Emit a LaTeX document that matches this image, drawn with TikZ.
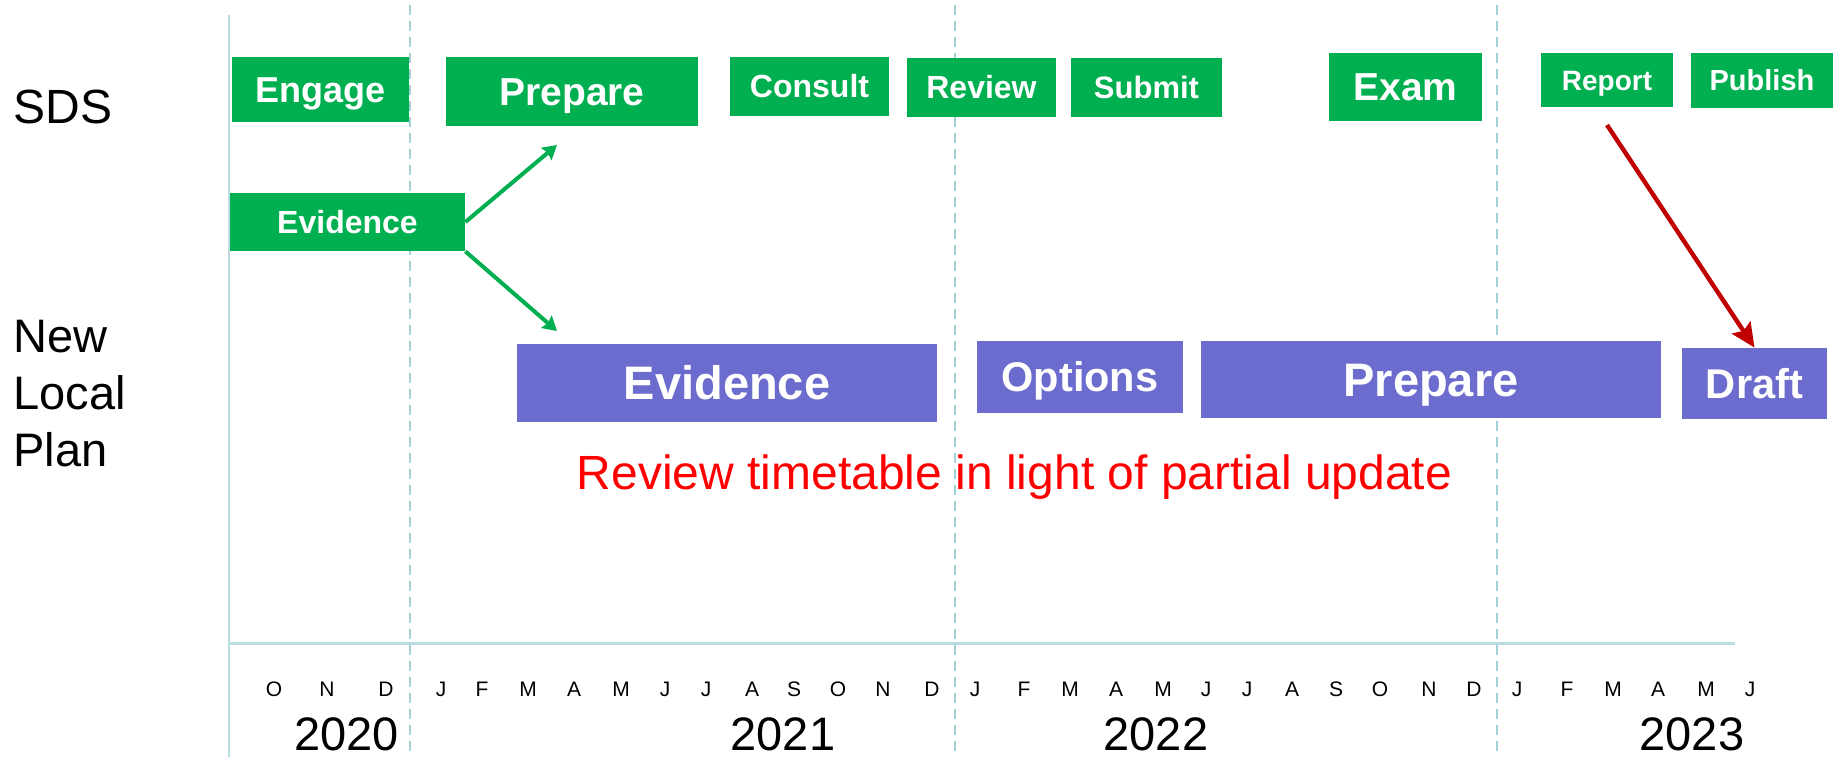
\documentclass[tikz,border=0pt]{standalone}
\usepackage{fontspec}
\setmainfont{Liberation Sans}
\usetikzlibrary{arrows.meta}
\definecolor{sdsgreen}{RGB}{0,176,80}
\definecolor{nlpurple}{RGB}{108,108,206}
\definecolor{gridblue}{RGB}{160,210,216}
\definecolor{axisblue}{RGB}{185,222,226}
\definecolor{arrowred}{RGB}{192,0,0}
\definecolor{textred}{RGB}{255,0,0}
\begin{document}
\begin{tikzpicture}[x=0.5pt,y=-0.5pt,
  boxbase/.style={inner sep=0pt, text=white, text depth=0pt},
  gbox/.style n args={3}{boxbase, fill=sdsgreen, minimum width=#1, minimum height=#2,
     text height=0.716*#3pt, font=\fontsize{#3}{#3}\selectfont\bfseries},
  pbox/.style n args={3}{boxbase, fill=nlpurple, minimum width=#1, minimum height=#2,
     text height=0.716*#3pt, font=\fontsize{#3}{#3}\selectfont\bfseries},
  rowlabel/.style={inner sep=0pt, anchor=base west, font=\fontsize{23.5}{23.5}\selectfont},
  month/.style={inner sep=0pt, anchor=base, font=\fontsize{10.5}{10.5}\selectfont},
  year/.style={inner sep=0pt, anchor=base, font=\fontsize{23.5}{23.5}\selectfont},
  gridline/.style={gridblue, line width=1pt, dash pattern=on 5pt off 3pt},
  garrow/.style={sdsgreen, line width=2pt, -{Stealth[length=7pt,width=8pt,inset=1pt]}},
  rarrow/.style={arrowred, line width=2.2pt, -{Stealth[length=12pt,width=11pt,inset=2pt]}}
]
\useasboundingbox (0,0) rectangle (1833,757);

% grid
\draw[axisblue, line width=1pt] (229,15) -- (229,757);
\draw[gridline] (410,5) -- (410,757);
\draw[gridline] (955,5) -- (955,757);
\draw[gridline] (1497,5) -- (1497,757);
\draw[axisblue, line width=1.5pt] (229,643) -- (1735,643);

% row labels
\node[rowlabel, font=\fontsize{24}{24}\selectfont] (sds) at (13,123) {SDS};
\node[rowlabel] (nlp1) at (13,352) {New};
\node[rowlabel] (nlp2) at (13,409) {Local};
\node[rowlabel] (nlp3) at (13,466) {Plan};

% SDS boxes
\node[gbox={88.5pt}{32.5pt}{18}] (engage) at (320.5,89.5) {Engage};
\node[gbox={126pt}{34.5pt}{19.5}] (prepg) at (572,91.5) {Prepare};
\node[gbox={79.5pt}{29.5pt}{16}] (consult) at (809.5,86.5) {Consult};
\node[gbox={74.5pt}{29.5pt}{16}] (review) at (981.5,87.5) {Review};
\node[gbox={75.5pt}{29.5pt}{15.5}] (submit) at (1146.5,87.5) {Submit};
\node[gbox={76.5pt}{34pt}{19.5}] (exam) at (1405.5,87) {Exam};
\node[gbox={66pt}{27pt}{14}] (report) at (1607,80) {Report};
\node[gbox={71pt}{27.5pt}{14.5}] (publish) at (1762,80.5) {Publish};
\node[gbox={117.5pt}{29pt}{16}] (evg) at (347.5,222) {Evidence};

% New Local Plan boxes
\node[pbox={210pt}{39pt}{23.5}] (evp) at (727,383) {Evidence};
\node[pbox={103pt}{36pt}{20.75}] (options) at (1080,377) {Options};
\node[pbox={230pt}{38.5pt}{23.5}] (prepp) at (1431,379.5) {Prepare};
\node[pbox={72.5pt}{35.5pt}{20.8}] (draft) at (1754.5,383.5) {Draft};

% arrows
\coordinate (ga1) at (557,145);
\coordinate (ga2) at (557,331);
\draw[garrow] (evg.east) -- (ga1);
\draw[garrow] (evg.south east) -- (ga2);
\coordinate (rs) at (1607,125);
\draw[rarrow] (rs) -- (draft.north);

% note
\node[inner sep=0pt, anchor=base, text=textred, font=\fontsize{24}{24}\selectfont] (note) at (1014.5,489) {Review timetable in light of partial update};

% months
\foreach \x/\m [count=\i] in {274/O,327/N,386/D,441/J,482/F,528/M,574/A,621/M,665/J,706/J,752/A,794/S,838/O,883/N,932/D,975/J,1024/F,1070/M,1116/A,1163/M,1206/J,1247/J,1292/A,1336/S,1380/O,1429/N,1474/D,1517/J,1567/F,1613/M,1658/A,1706/M,1750/J}
  \node[month] (m\i) at (\x,696) {\m};

% years
\node[year] (y2020) at (346.5,750) {2020};
\node[year] (y2021) at (783,750) {2021};
\node[year] (y2022) at (1156,750) {2022};
\node[year] (y2023) at (1692,750) {2023};
\end{tikzpicture}
\end{document}
